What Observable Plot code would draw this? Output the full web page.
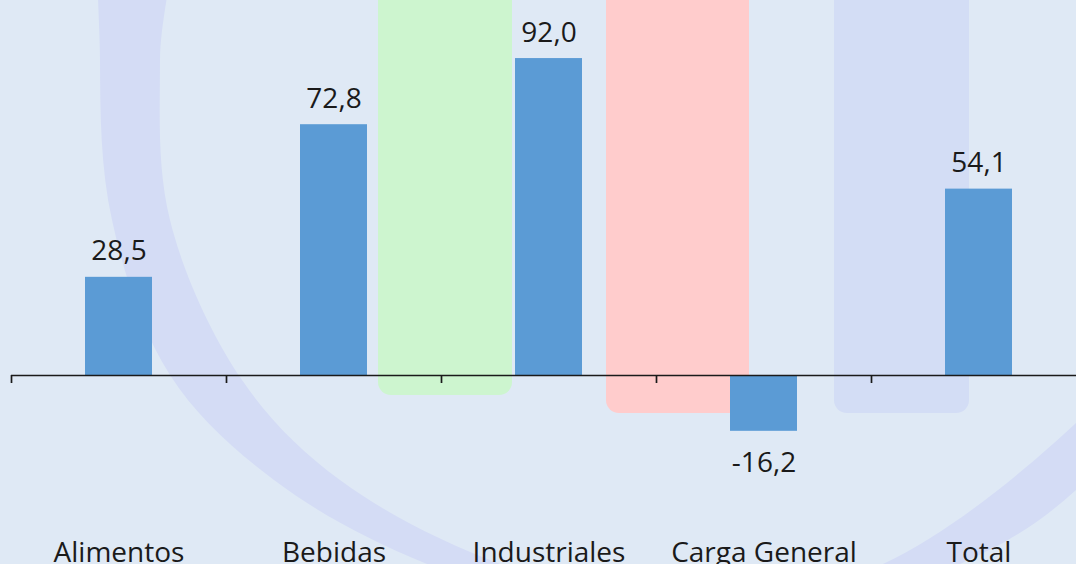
<!DOCTYPE html>
<html>
<head>
<meta charset="utf-8">
<script src="https://cdn.jsdelivr.net/npm/d3@7"></script>
<script src="https://cdn.jsdelivr.net/npm/@observablehq/plot@0.6"></script>
<style>
  html, body { margin: 0; padding: 0; background: #dfe9f5; overflow: hidden; width: 1076px; height: 564px; }
  #chart svg { display: block; }
</style>
</head>
<body>
<div id="chart"></div>
<script>
// ---- data ----
const categories = ["Alimentos", "Bebidas", "Industriales", "Carga General", "Total"];
const values = [28.5, 72.8, 92.0, -16.2, 54.1];
const valueLabels = ["28,5", "72,8", "92,0", "-16,2", "54,1"];

const data = categories.map((c, i) => ({ category: c, index: i, value: values[i], label: valueLabels[i] }));
const tickPositions = d3.range(categories.length); // band boundaries

// ---- layout ----
const W = 1076, H = 564;
const yRange = [375, 30.5];
const yDomain = [0, 100];
const pxPerUnit = (yRange[0] - yRange[1]) / (yDomain[1] - yDomain[0]);
const textColor = "#1a1a1a";
const font = "'Open Sans', 'Noto Sans', sans-serif";

const chart = Plot.plot({
  width: W,
  height: H,
  marginLeft: 11,
  marginRight: 0,
  marginTop: 0,
  marginBottom: 0,
  style: { background: "#dfe9f5", fontFamily: font, fontSize: "28px", overflow: "hidden", color: textColor },
  x: { type: "linear", domain: [0, categories.length], range: [11, 11 + 215 * categories.length], axis: null },
  y: { domain: yDomain, range: yRange, axis: null },
  marks: [
    Plot.rect(data, { x1: "index", x2: d => d.index + 1, y1: 0, y2: "value", insetLeft: 74, insetRight: 74, fill: "#5b9bd5" }),
    Plot.ruleY([0], { x1: 0, x2: categories.length, stroke: textColor, strokeWidth: 1.7 }),
    Plot.ruleX(tickPositions, { x: d => d, y1: 0, y2: -8 / pxPerUnit, stroke: textColor, strokeWidth: 1.7 }),
    Plot.text(data.filter(d => d.value >= 0), { x: d => d.index + 0.5, y: "value", text: "label", lineAnchor: "bottom", dy: -17, fill: textColor, fontSize: 28, fontFamily: font }),
    Plot.text(data.filter(d => d.value < 0), { x: d => d.index + 0.5, y: "value", text: "label", lineAnchor: "top", dy: 21, fill: textColor, fontSize: 28, fontFamily: font }),
    Plot.text(data, { x: d => d.index + 0.5, text: "category", frameAnchor: "bottom", lineAnchor: "bottom", dy: -3, fill: textColor, fontSize: 28, fontFamily: font })
  ]
});

// ---- decorative background (watermark ring and highlight panels) ----
const svg = d3.select(chart);
const deco = svg.insert("g", ":first-child").attr("class", "decor");
const ringOuter = [[112,-120],[100,60],[112,220],[170,375],[274,480],[427,564],[692,640],[960,564],[1076,490],[1210,320]];
const ringInner = [[1180,300],[1076,423],[883,564],[692,612],[500,564],[340,480],[242,380],[170,220],[160,60],[172,-120]];
deco.append("path")
  .attr("d", d3.line().curve(d3.curveCatmullRomClosed)(ringOuter.concat(ringInner)))
  .attr("fill", "#d4dcf5");
const panels = [
  { x: 378, w: 134, bottom: 395, fill: "#cdf5cf" },
  { x: 606, w: 143, bottom: 413, fill: "#ffcccc" },
  { x: 834, w: 135, bottom: 413, fill: "#d3ddf5" }
];
deco.selectAll("rect.panel").data(panels).join("rect")
  .attr("class", "panel")
  .attr("x", d => d.x).attr("y", -30)
  .attr("width", d => d.w).attr("height", d => d.bottom + 30)
  .attr("rx", 13).attr("fill", d => d.fill);

document.getElementById("chart").appendChild(chart);
</script>
</body>
</html>
